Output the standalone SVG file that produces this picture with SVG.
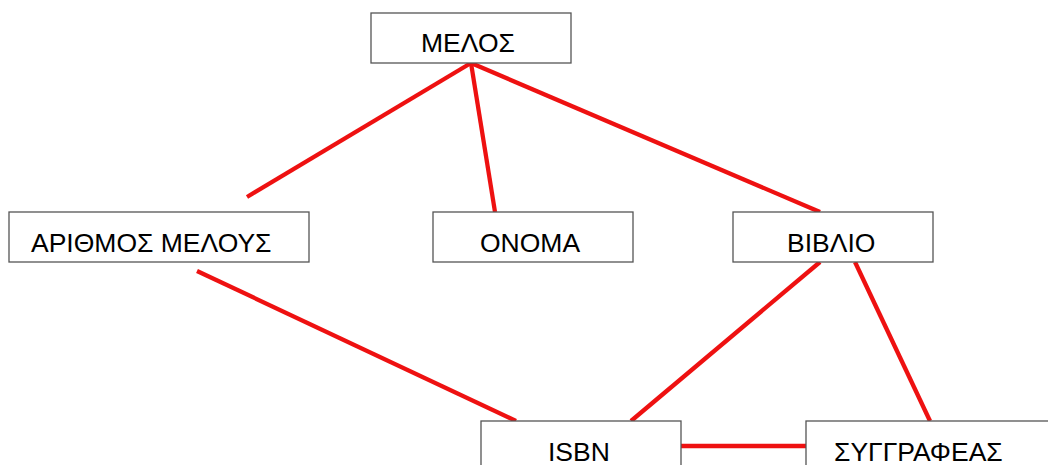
<svg xmlns="http://www.w3.org/2000/svg" width="1048" height="465" viewBox="0 0 1048 465">
  <style>
    .box { fill: #ffffff; stroke: #555555; stroke-width: 1.3; }
    .lbl { font-family: "Liberation Sans", Arial, sans-serif; font-size: 26.5px; fill: #000000; }
    .link { stroke: #ee1111; stroke-width: 4.3; fill: none; }
  </style>
  <rect width="1048" height="465" fill="#ffffff"/>

  <!-- relations between entities and attributes -->
  <g id="connectors">
    <line class="link" x1="471" y1="63" x2="247" y2="197"/>
    <line class="link" x1="471" y1="63" x2="495" y2="212"/>
    <line class="link" x1="471" y1="63" x2="820" y2="212"/>
    <line class="link" x1="197" y1="271" x2="516" y2="421"/>
    <line class="link" x1="820" y1="262" x2="631" y2="421"/>
    <line class="link" x1="855" y1="262" x2="930" y2="421"/>
    <line class="link" x1="681" y1="446" x2="806" y2="446"/>
  </g>

  <g id="melos">
    <rect class="box" x="371" y="13" width="200" height="50"/>
    <text class="lbl" x="421" y="52">ΜΕΛΟΣ</text>
  </g>

  <g id="arithmos-melous">
    <rect class="box" x="9" y="212" width="300" height="50"/>
    <text class="lbl" x="31" y="252">ΑΡΙΘΜΟΣ ΜΕΛΟΥΣ</text>
  </g>

  <g id="onoma">
    <rect class="box" x="433" y="212" width="200" height="50"/>
    <text class="lbl" x="480" y="252">ΟΝΟΜΑ</text>
  </g>

  <g id="vivlio">
    <rect class="box" x="733" y="212" width="200" height="50"/>
    <text class="lbl" x="787" y="252">ΒΙΒΛΙΟ</text>
  </g>

  <g id="isbn">
    <rect class="box" x="481" y="421" width="200" height="50"/>
    <text class="lbl" x="548" y="461">ISBN</text>
  </g>

  <g id="syggrafeas">
    <rect class="box" x="806" y="421" width="260" height="50"/>
    <text class="lbl" x="834" y="461">ΣΥΓΓΡΑΦΕΑΣ</text>
  </g>
</svg>
